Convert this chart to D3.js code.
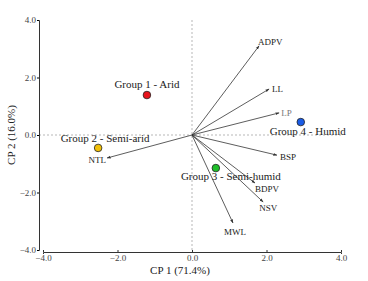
<!DOCTYPE html>
<html>
<head>
<meta charset="utf-8">
<script src="https://cdn.jsdelivr.net/npm/d3@7"></script>
<style>
  body { margin: 0; background: #fff; }
  text { font-family: "Liberation Serif", "DejaVu Serif", serif; fill: #222; }
  .tick text { font-size: 9px; fill: #444; }
</style>
</head>
<body>
<div id="chart"></div>
<script>
// group scores
const groups = ["Group 1 - Arid", "Group 2 - Semi-arid", "Group 3 - Semi-humid", "Group 4 - Humid"];
const groupX = [-1.21, -2.52, 0.64, 2.92];
const groupY = [1.39, -0.45, -1.15, 0.45];
const groupColors = ["#e8141c", "#f2c10a", "#1fbf2a", "#1a5ce6"];

// variable loadings (arrows)
const variables = ["ADPV", "LL", "LP", "BSP", "BDPV", "NSV", "MWL", "NTL"];
const varX = [1.80, 2.07, 2.34, 2.28, 1.69, 1.91, 1.10, -2.28];
const varY = [3.10, 1.60, 0.77, -0.70, -1.67, -2.33, -3.06, -0.80];

const ticks = [-4, -2, 0, 2, 4];

const W = 368, H = 281;
const svg = d3.select("#chart").append("svg")
    .attr("width", W).attr("height", H);

const x = d3.scaleLinear().domain([-4, 4]).range([43, 341]);
const y = d3.scaleLinear().domain([-4, 4]).range([250, 20]);

// arrow marker
svg.append("defs").append("marker")
    .attr("id", "head")
    .attr("viewBox", "0 0 10 10")
    .attr("refX", 9).attr("refY", 5)
    .attr("markerWidth", 5).attr("markerHeight", 5)
    .attr("orient", "auto")
    .append("path")
    .attr("d", "M0,1.5 L10,5 L0,8.5 Z")
    .attr("fill", "#333");

// dashed zero lines
svg.append("line")
    .attr("x1", x(0)).attr("x2", x(0))
    .attr("y1", y(4)).attr("y2", y(-4))
    .attr("stroke", "#9a9a9a").attr("stroke-width", 0.7)
    .attr("stroke-dasharray", "2,2");
svg.append("line")
    .attr("x1", 39).attr("x2", x(4))
    .attr("y1", y(0)).attr("y2", y(0))
    .attr("stroke", "#9a9a9a").attr("stroke-width", 0.7)
    .attr("stroke-dasharray", "2,2");

// axes
const fmt = d3.format(".1f");
svg.append("g")
    .attr("transform", "translate(0,252)")
    .call(d3.axisBottom(x).tickValues(ticks).tickFormat(fmt).tickSize(2).tickPadding(1))
    .call(g => g.select(".domain").attr("stroke", "#333"))
    .call(g => g.selectAll(".tick line").attr("stroke", "#333").attr("transform", "translate(0,-2)"));

svg.append("g")
    .attr("transform", "translate(39,0)")
    .call(d3.axisLeft(y).tickValues(ticks).tickFormat(fmt).tickSize(2).tickPadding(1))
    .call(g => g.select(".domain").attr("stroke", "#333"));

svg.append("text")
    .attr("x", 180).attr("y", 274)
    .attr("text-anchor", "middle")
    .style("font-size", "11px")
    .text("CP 1 (71.4%)");

svg.append("text")
    .attr("transform", "translate(15,135) rotate(-90)")
    .attr("text-anchor", "middle")
    .style("font-size", "11px")
    .text("CP 2 (16.0%)");

// arrows
const labelPos = [
    { dx: -1, dy: -1, anchor: "start" },
    { dx: 3, dy: 3, anchor: "start" },
    { dx: 2, dy: 3, anchor: "start" },
    { dx: 3, dy: 5, anchor: "start" },
    { dx: 0, dy: 9, anchor: "start" },
    { dx: -4, dy: 9, anchor: "start" },
    { dx: -9, dy: 12, anchor: "start" },
    { dx: -1, dy: 5, anchor: "end" }
];

svg.selectAll("line.load")
    .data(variables)
    .join("line")
    .attr("class", "load")
    .attr("x1", x(0)).attr("y1", y(0))
    .attr("x2", (d, i) => x(varX[i]))
    .attr("y2", (d, i) => y(varY[i]))
    .attr("stroke", "#333").attr("stroke-width", 0.8)
    .attr("marker-end", "url(#head)");

svg.selectAll("text.load")
    .data(variables)
    .join("text")
    .attr("class", "load")
    .attr("x", (d, i) => x(varX[i]) + labelPos[i].dx)
    .attr("y", (d, i) => y(varY[i]) + labelPos[i].dy)
    .attr("text-anchor", (d, i) => labelPos[i].anchor)
    .style("font-size", "9px")
    .style("fill", d => d === "LP" ? "#777" : "#222")
    .text(d => d);

// group points
svg.selectAll("circle.grp")
    .data(groups)
    .join("circle")
    .attr("class", "grp")
    .attr("cx", (d, i) => x(groupX[i]))
    .attr("cy", (d, i) => y(groupY[i]))
    .attr("r", 3.8)
    .attr("fill", (d, i) => groupColors[i])
    .attr("stroke", "#222").attr("stroke-width", 0.8);

const groupLabel = [
    { dx: 0, dy: -7 },
    { dx: 7, dy: -6 },
    { dx: 15, dy: 12 },
    { dx: 7, dy: 13 }
];
svg.selectAll("text.grp")
    .data(groups)
    .join("text")
    .attr("class", "grp")
    .attr("x", (d, i) => x(groupX[i]) + groupLabel[i].dx)
    .attr("y", (d, i) => y(groupY[i]) + groupLabel[i].dy)
    .attr("text-anchor", "middle")
    .style("font-size", "11px")
    .text(d => d);
</script>
</body>
</html>
